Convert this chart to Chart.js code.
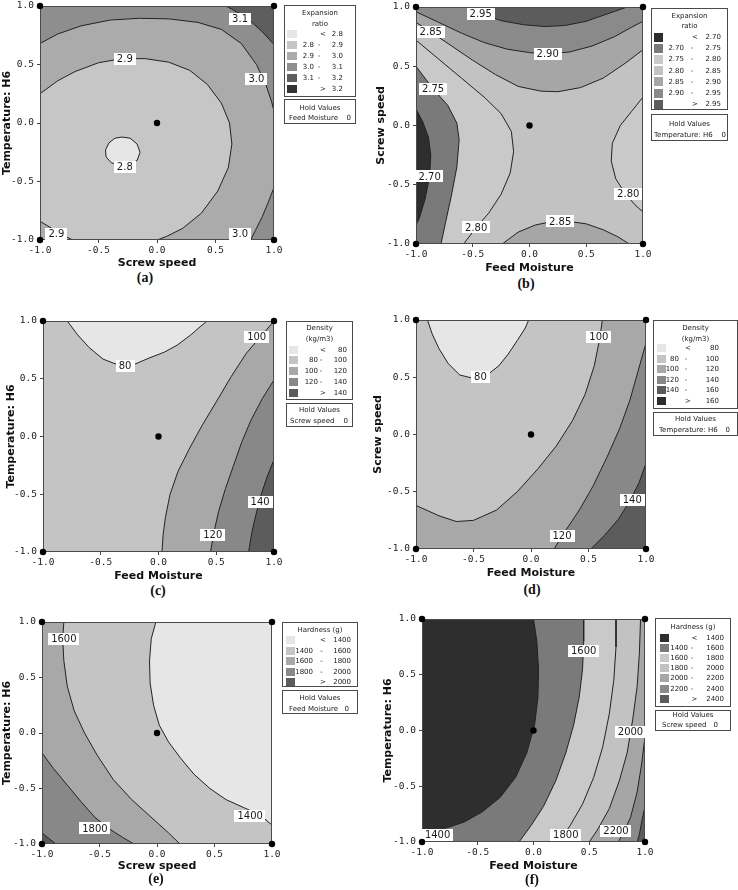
<!DOCTYPE html>
<html><head><meta charset="utf-8"><title>Contour plots</title>
<script src="https://cdn.jsdelivr.net/npm/chart.js@4.4.1/dist/chart.umd.min.js"></script>
<style>
html,body{margin:0;padding:0;background:#fff}
body{position:relative;width:738px;height:890px;overflow:hidden}
.cw{position:absolute}
.box{position:absolute;border:1px solid #4a4a4a;background:#fff;box-sizing:border-box}
.t{position:absolute;white-space:nowrap;font-family:'DejaVu Sans',sans-serif;font-size:7px;color:#1a1a1a;line-height:1;transform:translateY(-50%)}
.sw{position:absolute}
.cap{position:absolute;white-space:nowrap;font-family:'Liberation Serif',serif;font-weight:bold;font-size:14px;color:#111;line-height:1;transform:translate(-50%,-50%)}
</style></head><body>
<script>
// ---------- shared axis data ----------
const TICK_VALUES = [-1, -0.5, 0, 0.5, 1];
const TICK_LABELS = ['-1.0', '-0.5', '0.0', '0.5', '1.0'];
const DESIGN_POINTS = [[-1,-1],[1,-1],[1,1],[-1,1],[0,0]];
const SQUARE = [[-1,-1],[1,-1],[1,1],[-1,1]];

// ---------- (a) Expansion ratio: Screw speed vs Temperature ----------
const a28  = [[-0.30,-0.12],[-0.23,-0.13],[-0.17,-0.18],[-0.145,-0.25],[-0.17,-0.32],[-0.24,-0.355],[-0.32,-0.36],[-0.39,-0.34],[-0.435,-0.29],[-0.44,-0.23],[-0.41,-0.17],[-0.36,-0.13],[-0.30,-0.12]];
const a29  = [[-1,0.25],[-0.85,0.36],[-0.7,0.44],[-0.5,0.515],[-0.3,0.55],[-0.1,0.55],[0.1,0.52],[0.28,0.45],[0.43,0.33],[0.55,0.17],[0.62,0.0],[0.64,-0.18],[0.61,-0.38],[0.52,-0.58],[0.38,-0.77],[0.22,-0.9],[0.08,-0.97],[0.0,-1]];
const a29b = [[-1,-0.84],[-0.9,-0.9],[-0.8,-0.96],[-0.72,-1]];
const a30  = [[-1,0.68],[-0.85,0.76],[-0.65,0.83],[-0.4,0.88],[-0.15,0.895],[0.1,0.89],[0.35,0.86],[0.55,0.8],[0.72,0.68],[0.85,0.5],[0.93,0.33],[0.98,0.18],[1,0.1]];
const a30b = [[1,-0.55],[0.95,-0.68],[0.9,-0.8],[0.84,-0.92],[0.8,-1]];
const a31  = [[0.59,1],[0.68,0.95],[0.8,0.87],[0.9,0.78],[1,0.67]];
const aLabels = [['3.1',0.71,0.886],['2.9',-0.275,0.55],['3.0',0.85,0.38],['2.8',-0.275,-0.376],['2.9',-0.86,-0.946],['3.0',0.71,-0.946]];
const aLegendTitle = ['Expansion','ratio'];
const aLegendRows = [['','<','2.8'],['2.8','-','2.9'],['2.9','-','3.0'],['3.0','-','3.1'],['3.1','-','3.2'],['','>','3.2']];
const aHold = ['Feed Moisture','0'];

// ---------- (b) Expansion ratio: Feed Moisture vs Screw speed ----------
const b295  = [[-0.56,1],[-0.42,0.94],[-0.25,0.885],[-0.05,0.85],[0.14,0.835],[0.32,0.845],[0.5,0.88],[0.68,0.94],[0.86,1]];
const b290  = [[-1,0.96],[-0.8,0.87],[-0.6,0.78],[-0.4,0.7],[-0.2,0.645],[0.0,0.615],[0.16,0.605],[0.35,0.62],[0.55,0.67],[0.75,0.75],[0.9,0.83],[1,0.88]];
const b285  = [[-1,0.87],[-0.87,0.79],[-0.7,0.68],[-0.5,0.55],[-0.3,0.43],[-0.1,0.33],[0.1,0.29],[0.25,0.285],[0.45,0.32],[0.65,0.4],[0.85,0.53],[1,0.64]];
const b280L = [[-1,0.72],[-0.8,0.56],[-0.6,0.4],[-0.4,0.24],[-0.25,0.1],[-0.16,-0.05],[-0.14,-0.22],[-0.17,-0.4],[-0.25,-0.58],[-0.36,-0.74],[-0.47,-0.86],[-0.58,-1]];
const b275  = [[-1,0.5],[-0.85,0.31],[-0.72,0.17],[-0.64,0.02],[-0.62,-0.12],[-0.64,-0.35],[-0.69,-0.6],[-0.74,-0.82],[-0.78,-1]];
const b270  = [[-1,0.14],[-0.94,0.03],[-0.89,-0.1],[-0.87,-0.25],[-0.88,-0.43],[-0.92,-0.62],[-0.97,-0.78],[-1,-0.84]];
const b280R = [[1,0.24],[0.9,0.12],[0.8,0.0],[0.73,-0.15],[0.72,-0.3],[0.76,-0.45],[0.84,-0.57],[0.93,-0.67],[1,-0.73]];
const b285B = [[-0.24,-1],[-0.1,-0.9],[0.05,-0.84],[0.2,-0.81],[0.35,-0.81],[0.5,-0.83],[0.65,-0.88],[0.78,-0.94],[0.88,-1]];
const bLabels = [['2.95',-0.43,0.94],['2.85',-0.87,0.79],['2.90',0.16,0.605],['2.75',-0.85,0.31],['2.70',-0.88,-0.43],['2.80',0.87,-0.58],['2.85',0.27,-0.81],['2.80',-0.47,-0.86]];
const bLegendTitle = ['Expansion','ratio'];
const bLegendRows = [['','<','2.70'],['2.70','-','2.75'],['2.75','-','2.80'],['2.80','-','2.85'],['2.85','-','2.90'],['2.90','-','2.95'],['','>','2.95']];
const bHold = ['Temperature: H6','0'];

// ---------- (c) Density: Feed Moisture vs Temperature ----------
const c80  = [[-0.79,1],[-0.7,0.88],[-0.6,0.77],[-0.48,0.67],[-0.35,0.62],[-0.22,0.62],[-0.08,0.68],[0.05,0.73],[0.16,0.79],[0.28,0.88],[0.36,0.95],[0.42,1]];
const c100 = [[1,1],[0.88,0.86],[0.76,0.72],[0.63,0.52],[0.5,0.3],[0.38,0.1],[0.27,-0.1],[0.17,-0.3],[0.1,-0.5],[0.06,-0.7],[0.04,-0.85],[0.03,-1]];
const c120 = [[1,0.49],[0.9,0.33],[0.8,0.14],[0.72,-0.05],[0.65,-0.25],[0.58,-0.45],[0.52,-0.65],[0.48,-0.83],[0.45,-1]];
const c140 = [[1,-0.2],[0.94,-0.35],[0.89,-0.5],[0.85,-0.65],[0.81,-0.82],[0.78,-1]];
const cLabels = [['100',0.85,0.86],['80',-0.29,0.61],['140',0.88,-0.57],['120',0.47,-0.85]];
const cLegendTitle = ['Density','(kg/m3)'];
const cLegendRows = [['','<','80'],['80','-','100'],['100','-','120'],['120','-','140'],['','>','140']];
const cHold = ['Screw speed','0'];

// ---------- (d) Density: Feed Moisture vs Screw speed ----------
const d80  = [[-0.9,1],[-0.86,0.88],[-0.8,0.75],[-0.72,0.62],[-0.62,0.52],[-0.5,0.49],[-0.38,0.52],[-0.28,0.6],[-0.2,0.7],[-0.12,0.82],[-0.05,0.93],[-0.02,1]];
const d100 = [[0.62,1],[0.6,0.85],[0.55,0.6],[0.47,0.35],[0.36,0.12],[0.22,-0.1],[0.06,-0.3],[-0.12,-0.5],[-0.3,-0.66],[-0.5,-0.75],[-0.65,-0.76],[-0.8,-0.71],[-1,-0.62]];
const d120 = [[1,0.8],[0.93,0.55],[0.86,0.3],[0.77,0.05],[0.66,-0.2],[0.54,-0.45],[0.42,-0.66],[0.3,-0.84],[0.2,-1]];
const d140 = [[1,-0.25],[0.94,-0.42],[0.86,-0.58],[0.76,-0.74],[0.64,-0.88],[0.52,-1]];
const dLabels = [['100',0.59,0.855],['80',-0.44,0.5],['140',0.88,-0.575],['120',0.27,-0.89]];
const dLegendTitle = ['Density','(kg/m3)'];
const dLegendRows = [['','<','80'],['80','-','100'],['100','-','120'],['120','-','140'],['140','-','160'],['','>','160']];
const dHold = ['Temperature: H6','0'];

// ---------- (e) Hardness: Screw speed vs Temperature ----------
const e1400 = [[-0.01,1],[-0.05,0.85],[-0.065,0.65],[-0.06,0.45],[-0.03,0.25],[0.02,0.07],[0.1,-0.08],[0.2,-0.22],[0.32,-0.37],[0.46,-0.5],[0.6,-0.6],[0.75,-0.67],[0.9,-0.74],[1,-0.83]];
const e1600 = [[-0.81,1],[-0.82,0.85],[-0.81,0.65],[-0.78,0.42],[-0.72,0.2],[-0.63,0.0],[-0.52,-0.2],[-0.38,-0.42],[-0.22,-0.6],[-0.06,-0.75],[0.1,-0.9],[0.2,-1]];
const e1800 = [[-1,-0.18],[-0.9,-0.32],[-0.78,-0.47],[-0.66,-0.62],[-0.54,-0.76],[-0.42,-0.86],[-0.3,-0.94],[-0.2,-1]];
const e2000 = [[-1,-0.9],[-0.94,-0.95],[-0.88,-1]];
const eLabels = [['1600',-0.81,0.85],['1400',0.81,-0.75],['1800',-0.54,-0.86]];
const eLegendTitle = ['Hardness (g)'];
const eLegendRows = [['','<','1400'],['1400','-','1600'],['1600','-','1800'],['1800','-','2000'],['','>','2000']];
const eHold = ['Feed Moisture','0'];

// ---------- (f) Hardness: Feed Moisture vs Temperature ----------
const f1400 = [[0.0,1],[0.03,0.8],[0.045,0.55],[0.04,0.3],[0.01,0.05],[-0.06,-0.2],[-0.16,-0.42],[-0.3,-0.6],[-0.46,-0.73],[-0.62,-0.82],[-0.8,-0.88],[-1,-0.92]];
const f1600 = [[0.45,1],[0.45,0.8],[0.44,0.55],[0.41,0.3],[0.36,0.05],[0.29,-0.2],[0.2,-0.45],[0.09,-0.68],[-0.02,-0.85],[-0.13,-1]];
const f1800 = [[0.74,1],[0.74,0.75],[0.72,0.45],[0.68,0.15],[0.62,-0.15],[0.54,-0.42],[0.44,-0.66],[0.33,-0.85],[0.23,-1]];
const f2000 = [[0.96,1],[0.95,0.7],[0.93,0.4],[0.89,0.1],[0.84,-0.2],[0.77,-0.45],[0.68,-0.7],[0.58,-0.88],[0.5,-1]];
const f2200 = [[1,-0.05],[0.97,-0.3],[0.93,-0.55],[0.87,-0.78],[0.8,-0.93],[0.76,-1]];
const f2400 = [[1,-0.68],[0.97,-0.82],[0.95,-0.93],[0.93,-1]];
const fLabels = [['1600',0.45,0.71],['2000',0.87,-0.01],['1400',-0.86,-0.94],['1800',0.29,-0.94],['2200',0.74,-0.9]];
const fLegendTitle = ['Hardness (g)'];
const fLegendRows = [['','<','1400'],['1400','-','1600'],['1600','-','1800'],['1800','-','2000'],['2000','-','2200'],['2200','-','2400'],['','>','2400']];
const fHold = ['Screw speed','0'];

// ---------- styles ----------
const LINE_COLOR = '#222222';
const PAL6 = ['#e6e6e6','#c6c6c6','#ababab','#8e8e8e','#5e5e5e','#333333'];
const PAL7 = ['#2e2e2e','#7a7a7a','#c9c9c9','#c2c2c2','#a6a6a6','#8a8a8a','#5c5c5c'];
const PAL5 = ['#e6e6e6','#c4c4c4','#a8a8a8','#888888','#5c5c5c'];
const PAL6D = ['#e6e6e6','#c4c4c4','#a8a8a8','#888888','#5c5c5c','#2e2e2e'];
const rev = a => a.slice().reverse();

const panels = [
 {rect:[40,6,274,240], yw:39, xh:30, xTitle:'Screw speed', yTitle:'Temperature: H6',
  regions:[[SQUARE,PAL6[2]],[[...a30,[1,1],[-1,1]],PAL6[3]],[[...a30b,[1,-1]],PAL6[3]],[[...a31,[1,1]],PAL6[4]],[[...a29,...rev(a29b)],PAL6[1]],[a28,PAL6[0]]],
  lines:[a28,a29,a29b,a30,a30b,a31], labels:aLabels, caption:['(a)',145,278],
  leg:{title:aLegendTitle, rows:aLegendRows, colors:PAL6, hold:aHold, box:[284,5,72,92], titleY:[13,24], rowY0:34, rowDY:11, swX:287, swW:10, swH:8, c1R:314, dashX:319, cmpX:323, c2R:343, hbox:[284,99,72,25], holdY:[108,118], holdLX:289, holdVR:351}},
 {rect:[416,7,643,244], yw:41, xh:31, xTitle:'Feed Moisture', yTitle:'Screw speed',
  regions:[[SQUARE,PAL7[3]],[[...b280L,[-1,-1]],PAL7[2]],[[...b275,[-1,-1]],PAL7[1]],[b270,PAL7[0]],[b280R,PAL7[2]],[b285B,PAL7[4]],[[...b285,[1,1],[-1,1]],PAL7[4]],[[...b290,[1,1],[-1,1]],PAL7[5]],[b295,PAL7[6]]],
  lines:[b295,b290,b285,b280L,b275,b270,b280R,b285B], labels:bLabels, caption:['(b)',526,284],
  leg:{title:bLegendTitle, rows:bLegendRows, colors:PAL7, hold:bHold, box:[651,8,77,102], titleY:[16,26], rowY0:37, rowDY:11.2, swX:654, swW:9, swH:9, c1R:684, dashX:692, cmpX:695, c2R:721, hbox:[651,114,77,27], holdY:[124,135], holdLX:654, holdVR:726}},
 {rect:[43,321,274,552], yw:38, xh:31, xTitle:'Feed Moisture', yTitle:'Temperature: H6',
  regions:[[SQUARE,PAL5[1]],[c80,PAL5[0]],[[...c100,[1,-1]],PAL5[2]],[[...c120,[1,-1]],PAL5[3]],[[...c140,[1,-1]],PAL5[4]]],
  lines:[c80,c100,c120,c140], labels:cLabels, caption:['(c)',158,591],
  leg:{title:cLegendTitle, rows:cLegendRows, colors:PAL5, hold:cHold, box:[286,321,67,79], titleY:[328,339], rowY0:349.5, rowDY:10.8, swX:289, swW:9, swH:8, c1R:318, dashX:321, cmpX:323, c2R:347, hbox:[286,403,67,24], holdY:[410,421], holdLX:290, holdVR:348}},
 {rect:[416,320,646,549], yw:44, xh:31, xTitle:'Feed Moisture', yTitle:'Screw speed',
  regions:[[SQUARE,PAL6D[1]],[d80,PAL6D[0]],[[...d100,[-1,-1],[1,-1],[1,1]],PAL6D[2]],[[...d120,[1,-1]],PAL6D[3]],[[...d140,[1,-1]],PAL6D[4]]],
  lines:[d80,d100,d120,d140], labels:dLabels, caption:['(d)',532,590],
  leg:{title:dLegendTitle, rows:dLegendRows, colors:PAL6D, hold:dHold, box:[653,320,85,89], titleY:[328,339], rowY0:348, rowDY:10.5, swX:657, swW:9, swH:8, c1R:679, dashX:686, cmpX:688, c2R:719, hbox:[653,412,85,24], holdY:[419,430], holdLX:659, holdVR:730}},
 {rect:[42,622,272,844], yw:41, xh:29, xTitle:'Screw speed', yTitle:'Temperature: H6',
  regions:[[SQUARE,PAL5[2]],[[...e1600,[1,-1],[1,1]],PAL5[1]],[[...e1400,[1,1]],PAL5[0]],[[...e1800,[-1,-1]],PAL5[3]],[[...e2000,[-1,-1]],PAL5[4]]],
  lines:[e1400,e1600,e1800,e2000], labels:eLabels, caption:['(e)',156,879],
  leg:{title:eLegendTitle, rows:eLegendRows, colors:PAL5, hold:eHold, box:[282,622,76,65], titleY:[629.5], rowY0:640, rowDY:10.5, swX:286, swW:9, swH:8, c1R:313, dashX:321.5, cmpX:323, c2R:351, hbox:[282,690,76,24], holdY:[697.5,708.5], holdLX:289, holdVR:349}},
 {rect:[422,619,645,842], yw:40, xh:31, xTitle:'Feed Moisture', yTitle:'Temperature: H6',
  regions:[[SQUARE,PAL7[0]],[[...f1400,[-1,-1],[1,-1],[1,1]],PAL7[1]],[[...f1600,[1,-1],[1,1]],PAL7[2]],[[...f1800,[1,-1],[1,1]],PAL7[3]],[[...f2000,[1,-1],[1,1]],PAL7[4]],[[...f2200,[1,-1]],PAL7[5]],[[...f2400,[1,-1]],PAL7[6]]],
  lines:[f1400,f1600,f1800,f2000,f2200,f2400], labels:fLabels, caption:['(f)',532,880],
  leg:{title:fLegendTitle, rows:fLegendRows, colors:PAL7, hold:fHold, box:[655,618,76,89], titleY:[627], rowY0:637.5, rowDY:10.2, swX:660, swW:9, swH:8, c1R:688, dashX:692, cmpX:694.5, c2R:724, hbox:[655,710,76,21], holdY:[715,725], holdLX:662, holdVR:718}}
];

const toPts = arr => arr.map(([x,y]) => ({x, y}));

function txt(s, x, y, align, cls){
  const d = document.createElement('div');
  d.className = cls || 't';
  d.textContent = s;
  if (align === 'c') { d.style.left = (x-60)+'px'; d.style.width='120px'; d.style.textAlign='center'; }
  else if (align === 'r') { d.style.left = (x-120)+'px'; d.style.width='120px'; d.style.textAlign='right'; }
  else { d.style.left = x+'px'; }
  d.style.top = y+'px';
  document.body.appendChild(d);
  return d;
}
function boxDiv(b){
  const d = document.createElement('div'); d.className='box';
  d.style.left=b[0]+'px'; d.style.top=b[1]+'px'; d.style.width=b[2]+'px'; d.style.height=b[3]+'px';
  document.body.appendChild(d);
}
function buildLegend(g){
  boxDiv(g.box);
  const cx = g.box[0] + g.box[2]/2;
  g.title.forEach((s,i)=>txt(s, cx, g.titleY[i], 'c'));
  g.rows.forEach((r,i)=>{
    const y = g.rowY0 + i*g.rowDY;
    const sw = document.createElement('div'); sw.className='sw';
    sw.style.left=g.swX+'px'; sw.style.top=(y-g.swH/2)+'px'; sw.style.width=g.swW+'px'; sw.style.height=g.swH+'px';
    sw.style.background=g.colors[i]; document.body.appendChild(sw);
    if (r[0]) txt(r[0], g.c1R, y, 'r');
    txt(r[1], r[1]==='-' ? g.dashX : g.cmpX, y, 'c');
    txt(r[2], g.c2R, y, 'r');
  });
  boxDiv(g.hbox);
  txt('Hold Values', g.hbox[0]+g.hbox[2]/2, g.holdY[0], 'c');
  txt(g.hold[0], g.holdLX, g.holdY[1], 'l');
  txt(g.hold[1], g.holdVR, g.holdY[1], 'r');
}

function buildPanel(P){
  const [L,T,R,B] = P.rect;
  const pt = 10, pr = 16;
  const W = P.yw + (R-L) + pr, H = pt + (B-T) + P.xh;
  const wrap = document.createElement('div'); wrap.className='cw';
  wrap.style.left=(L-P.yw)+'px'; wrap.style.top=(T-pt)+'px';
  const cv = document.createElement('canvas');
  cv.width=W; cv.height=H; cv.style.width=W+'px'; cv.style.height=H+'px';
  wrap.appendChild(cv); document.body.appendChild(wrap);

  const ds = [];
  P.regions.forEach(([poly,col]) => ds.push({data:toPts(poly), fill:'shape', backgroundColor:col, borderColor:'rgba(0,0,0,0)', borderWidth:0, pointRadius:0, tension:0}));
  P.lines.forEach(l => ds.push({data:toPts(l), fill:false, borderColor:LINE_COLOR, borderWidth:1, pointRadius:0, tension:0,
    segment:{borderColor:() => LINE_COLOR}}));
  ds.push({data:toPts(DESIGN_POINTS), showLine:false, fill:false, pointRadius:3.2, pointBackgroundColor:'#000', pointBorderColor:'#000', pointBorderWidth:0, clip:false});
  ds.reverse();

  const deco = {
    id:'deco',
    beforeDatasetDraw(chart, args){
      if (args.index !== 0) return;
      const {ctx, chartArea:a, scales:{x, y}} = chart;
      ctx.save();
      ctx.strokeStyle='#4a4a4a'; ctx.lineWidth=1;
      ctx.strokeRect(a.left+0.5, a.top+0.5, a.right-a.left-1, a.bottom-a.top-1);
      ctx.font = "10px 'DejaVu Sans', sans-serif";
      ctx.textAlign='center'; ctx.textBaseline='middle';
      for (const [s,vx,vy] of P.labels){
        const px = x.getPixelForValue(vx), py = y.getPixelForValue(vy);
        const w = ctx.measureText(s).width + 6, h = 12;
        ctx.fillStyle='#fff'; ctx.fillRect(Math.round(px-w/2), Math.round(py-h/2), Math.round(w), h);
        ctx.fillStyle='#1a1a1a'; ctx.fillText(s, px, py+0.5);
      }
      ctx.restore();
    }
  };
  const tickOpts = pad => ({font:{family:"'DejaVu Sans Mono', monospace", size:9.5}, color:'#222', padding:pad, autoSkip:false, maxRotation:0,
    callback: v => { const i = TICK_VALUES.indexOf(v); return i >= 0 ? TICK_LABELS[i] : ''; }});
  const titleOpts = text => ({display:true, text, font:{family:"'DejaVu Sans', sans-serif", weight:'bold', size:11}, color:'#111', padding:0});
  new Chart(cv, {
    type:'line',
    data:{datasets:ds},
    options:{
      responsive:false, animation:false, events:[], devicePixelRatio:1,
      layout:{padding:{top:pt, right:pr, left:0, bottom:0}},
      plugins:{legend:{display:false}, tooltip:{enabled:false}},
      scales:{
        x:{type:'linear', min:-1, max:1, afterBuildTicks:s=>{s.ticks=TICK_VALUES.map(v=>({value:v}));}, afterFit:s=>{s.height=P.xh;},
           ticks:tickOpts(2), grid:{drawOnChartArea:false, tickLength:3, color:'#444'}, border:{display:false}, title:titleOpts(P.xTitle)},
        y:{type:'linear', min:-1, max:1, afterBuildTicks:s=>{s.ticks=TICK_VALUES.map(v=>({value:v}));}, afterFit:s=>{s.width=P.yw;},
           ticks:tickOpts(3), grid:{drawOnChartArea:false, tickLength:3, color:'#444'}, border:{display:false}, title:titleOpts(P.yTitle)}
      }
    },
    plugins:[deco]
  });
}

panels.forEach(P => { buildPanel(P); });
panels.forEach(P => { buildLegend(P.leg); txt(P.caption[0], P.caption[1], P.caption[2], null, 'cap'); });
</script>
</body></html>
